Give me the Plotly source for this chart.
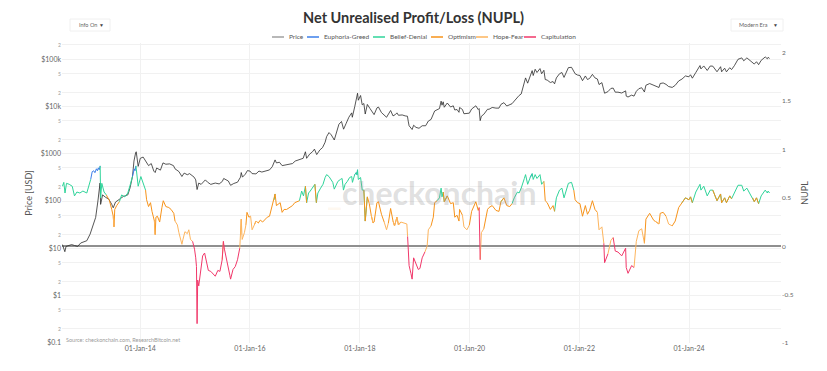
import plotly.graph_objects as go

# ---------------- data ----------------
price_dates = [
"2012-08-01","2012-08-17","2012-08-25","2012-09-15","2012-10-01","2012-10-20","2012-11-10","2012-12-01","2012-12-20",
"2013-01-10","2013-02-01","2013-02-20","2013-03-10","2013-03-25","2013-04-08","2013-04-12","2013-04-25","2013-05-15",
"2013-06-05","2013-06-25","2013-07-05","2013-07-20","2013-08-15","2013-09-10","2013-10-10","2013-10-25","2013-11-10",
"2013-11-20","2013-12-01","2013-12-05","2013-12-18","2014-01-01","2014-01-20","2014-02-10","2014-02-25","2014-03-15",
"2014-04-01","2014-04-10","2014-04-20","2014-05-15","2014-06-01","2014-06-20","2014-07-15","2014-08-10","2014-08-20",
"2014-09-15","2014-10-05","2014-10-20","2014-11-10","2014-11-25","2014-12-10","2014-12-25","2015-01-05","2015-01-14",
"2015-01-25","2015-02-10","2015-03-10","2015-03-25","2015-04-15","2015-05-15","2015-06-10","2015-07-01","2015-07-10",
"2015-07-25","2015-08-10","2015-08-25","2015-09-15","2015-10-10","2015-10-30","2015-11-04","2015-11-12","2015-12-01",
"2015-12-15","2016-01-01","2016-01-15","2016-02-10","2016-03-01","2016-03-20","2016-04-15","2016-05-10","2016-05-28",
"2016-06-16","2016-06-25","2016-07-15","2016-08-02","2016-08-20","2016-09-15","2016-10-10","2016-10-28","2016-11-15",
"2016-12-01","2016-12-20","2017-01-04","2017-01-12","2017-02-01","2017-02-20","2017-03-05","2017-03-20","2017-04-10",
"2017-04-28","2017-05-15","2017-05-25","2017-06-10","2017-06-25","2017-07-15","2017-08-01","2017-08-15","2017-09-01",
"2017-09-15","2017-10-01","2017-10-20","2017-11-08","2017-11-12","2017-11-28","2017-12-08","2017-12-17","2017-12-22",
"2018-01-06","2018-01-17","2018-01-28","2018-02-06","2018-02-20","2018-03-10","2018-03-30","2018-04-06","2018-04-25",
"2018-05-05","2018-05-25","2018-06-12","2018-06-28","2018-07-25","2018-08-10","2018-08-25","2018-09-05","2018-09-15",
"2018-10-10","2018-10-30","2018-11-14","2018-11-20","2018-11-25","2018-12-15","2018-12-25","2019-01-10","2019-01-30",
"2019-02-20","2019-03-15","2019-04-02","2019-04-20","2019-05-14","2019-05-30","2019-06-15","2019-06-26","2019-07-02",
"2019-07-10","2019-07-17","2019-08-06","2019-08-28","2019-09-15","2019-09-25","2019-10-10","2019-10-23","2019-10-27",
"2019-11-15","2019-11-25","2019-12-15","2019-12-31","2020-01-15","2020-02-12","2020-02-28","2020-03-05","2020-03-12",
"2020-03-20","2020-04-05","2020-04-30","2020-05-10","2020-05-31","2020-06-25","2020-07-15","2020-07-28","2020-08-17",
"2020-09-05","2020-09-25","2020-10-10","2020-10-25","2020-11-15","2020-11-26","2020-12-10","2020-12-20","2020-12-31",
"2021-01-08","2021-01-22","2021-02-08","2021-02-21","2021-02-28","2021-03-13","2021-03-25","2021-04-14","2021-04-25",
"2021-05-10","2021-05-19","2021-06-01","2021-06-22","2021-07-10","2021-07-20","2021-08-01","2021-08-22","2021-09-07",
"2021-09-21","2021-10-05","2021-10-20","2021-11-10","2021-11-25","2021-12-04","2021-12-20","2022-01-05","2022-01-22",
"2022-02-10","2022-02-24","2022-03-10","2022-03-29","2022-04-15","2022-05-01","2022-05-12","2022-05-31","2022-06-13",
"2022-06-18","2022-07-10","2022-07-30","2022-08-14","2022-08-28","2022-09-15","2022-10-10","2022-11-05","2022-11-09",
"2022-11-21","2022-12-15","2022-12-31","2023-01-15","2023-02-01","2023-02-20","2023-03-10","2023-03-20","2023-04-14",
"2023-05-10","2023-06-15","2023-06-23","2023-07-13","2023-08-01","2023-08-18","2023-09-11","2023-10-01","2023-10-24",
"2023-11-15","2023-12-08","2023-12-31","2024-01-11","2024-01-23","2024-02-15","2024-03-14","2024-03-20","2024-04-08",
"2024-05-01","2024-05-21","2024-06-07","2024-07-05","2024-07-29","2024-08-05","2024-08-25","2024-09-06","2024-09-28",
"2024-10-10","2024-10-29","2024-11-12","2024-11-22","2024-12-17","2024-12-30","2025-01-20","2025-02-03","2025-02-28",
"2025-03-10","2025-03-25","2025-04-08","2025-04-25","2025-05-22","2025-06-05","2025-06-10","2025-06-20"]
price_usd = [
12,8.5,11,11.5,12,11.5,11,13,13.5,
14.5,20,30,45,100,240,85,135,120,
110,85,72,95,110,125,135,190,330,
700,1050,1100,540,800,850,650,560,620,
430,400,500,450,640,600,610,560,480,
420,330,390,360,380,350,320,280,175,
240,225,280,250,225,240,230,260,300,
285,265,215,235,250,320,400,320,370,
440,430,380,375,430,410,425,455,530,
740,640,660,560,580,610,620,700,740,
750,800,1100,800,980,1100,1250,960,1200,
1350,1750,2300,2800,2500,1950,2800,4200,4800,
3300,4300,5900,7300,5900,9800,15000,19000,13500,
17000,10800,11500,6900,11000,9000,6900,6700,9300,
9700,7400,6500,5900,8200,6300,6700,7300,6500,
6600,6300,6200,4700,3900,3250,4000,3600,3450,
3900,3900,4900,5300,8000,8600,9000,12900,10600,
12500,9600,11800,9700,10300,8400,8600,7500,9500,
8600,7000,7100,7200,8800,10300,8600,9000,5000,
6200,6800,8700,8700,9500,9200,9200,11000,12000,
10200,10700,11400,13000,16000,17000,18300,23800,29000,
40000,31000,46000,57000,45000,61000,52000,63000,49000,
58000,37000,36000,32000,33500,30000,40000,49000,52000,
41000,51000,66000,67000,57000,49000,46000,45000,35000,
44000,37000,39000,47500,40000,38000,29000,31800,22000,
19000,20500,24000,24400,20000,20000,19200,21300,16500,
15800,17300,16500,20800,23700,24800,20200,28000,30400,
27700,25100,30500,31300,29200,26300,25200,27900,34500,
37800,44000,42300,46600,39500,52000,73000,62000,71600,
57500,71400,71000,54000,69000,53900,64200,53800,65800,
60000,72700,88000,99000,106000,92000,106000,98000,84000,
78500,88000,76300,94000,111000,101500,109000,103000]

nupl_dates = [
"2012-08-01","2012-08-10","2012-08-18","2012-08-28","2012-09-15","2012-10-05","2012-10-20","2012-11-05","2012-11-25","2012-12-15",
"2013-01-10","2013-01-25","2013-02-05","2013-02-15","2013-02-25","2013-03-05","2013-03-15","2013-03-22","2013-03-28","2013-04-03",
"2013-04-09","2013-04-12","2013-04-20","2013-05-05","2013-05-20","2013-06-10","2013-06-25","2013-07-05","2013-07-10","2013-07-15",
"2013-07-28","2013-08-15","2013-08-30","2013-09-20","2013-10-10","2013-10-25","2013-11-10","2013-11-17","2013-11-22","2013-11-27",
"2013-12-03","2013-12-10","2013-12-18",
"2014-01-05","2014-01-20","2014-02-05","2014-02-12","2014-02-25","2014-03-10","2014-03-20","2014-04-05","2014-04-10","2014-04-15",
"2014-04-25","2014-05-10","2014-05-25","2014-06-03","2014-06-20","2014-07-10","2014-07-25","2014-08-12","2014-08-20","2014-09-05",
"2014-09-15","2014-10-05","2014-10-12","2014-10-25","2014-11-10","2014-11-20","2014-12-01","2014-12-15","2014-12-28",
"2015-01-05","2015-01-10","2015-01-14","2015-01-18","2015-01-25","2015-02-05","2015-02-20","2015-03-05","2015-03-15","2015-03-30",
"2015-04-15","2015-04-28","2015-05-15","2015-06-01","2015-06-15","2015-06-30","2015-07-08","2015-07-15","2015-07-25","2015-08-10",
"2015-08-20","2015-08-25","2015-09-10","2015-09-25","2015-10-10","2015-10-25","2015-11-01","2015-11-04","2015-11-10","2015-11-25",
"2015-12-05","2015-12-12","2015-12-25",
"2016-01-05","2016-01-15","2016-01-30","2016-02-10","2016-02-25","2016-03-10","2016-03-25","2016-04-10","2016-04-25","2016-05-10",
"2016-05-25","2016-06-10","2016-06-16","2016-06-25","2016-07-10","2016-07-20","2016-08-02","2016-08-15","2016-09-01","2016-09-20",
"2016-10-10","2016-10-25","2016-11-10","2016-11-25","2016-12-01","2016-12-10","2016-12-22",
"2017-01-04","2017-01-12","2017-01-25","2017-02-05","2017-02-25","2017-03-08","2017-03-18","2017-03-28","2017-04-15","2017-05-01",
"2017-05-15","2017-05-25","2017-06-10","2017-06-25","2017-07-05","2017-07-15","2017-07-25","2017-08-08","2017-08-25","2017-09-05",
"2017-09-14","2017-09-25","2017-10-10","2017-10-25","2017-11-08","2017-11-13","2017-11-28","2017-12-08","2017-12-13","2017-12-17",
"2017-12-22",
"2018-01-06","2018-01-17","2018-01-28","2018-02-06","2018-02-20","2018-03-05","2018-03-18","2018-03-30","2018-04-06","2018-04-25",
"2018-05-05","2018-05-25","2018-06-12","2018-06-28","2018-07-10","2018-07-25","2018-08-10","2018-08-20","2018-09-05","2018-09-15",
"2018-10-01","2018-10-20","2018-11-10","2018-11-15","2018-11-20","2018-11-25","2018-12-07","2018-12-15","2018-12-25",
"2019-01-10","2019-01-25","2019-02-05","2019-02-20","2019-03-10","2019-03-25","2019-04-02","2019-04-20","2019-05-05","2019-05-14",
"2019-05-30","2019-06-15","2019-06-26","2019-07-02","2019-07-10","2019-07-17","2019-08-06","2019-08-28","2019-09-15","2019-09-25",
"2019-10-10","2019-10-23","2019-10-27","2019-11-15","2019-11-25","2019-12-15","2019-12-31",
"2020-01-15","2020-02-12","2020-02-28","2020-03-05","2020-03-12","2020-03-20","2020-04-05","2020-04-30","2020-05-10","2020-05-31",
"2020-06-25","2020-07-15","2020-07-28","2020-08-17","2020-09-05","2020-09-25","2020-10-10","2020-10-25","2020-11-15","2020-11-26",
"2020-12-10","2020-12-20","2020-12-31",
"2021-01-08","2021-01-22","2021-02-08","2021-02-21","2021-02-28","2021-03-13","2021-03-25","2021-04-14","2021-04-25","2021-05-10",
"2021-05-19","2021-06-01","2021-06-22","2021-07-10","2021-07-20","2021-08-01","2021-08-22","2021-09-07","2021-09-21","2021-10-05",
"2021-10-20","2021-11-10","2021-11-25","2021-12-04","2021-12-20",
"2022-01-05","2022-01-22","2022-02-10","2022-02-24","2022-03-10","2022-03-29","2022-04-15","2022-05-01","2022-05-12","2022-05-31",
"2022-06-13","2022-06-18","2022-07-10","2022-07-30","2022-08-14","2022-08-28","2022-09-15","2022-10-10","2022-11-05","2022-11-09",
"2022-11-21","2022-12-15","2022-12-31",
"2023-01-15","2023-02-01","2023-02-20","2023-03-10","2023-03-20","2023-04-14","2023-05-10","2023-06-15","2023-06-23","2023-07-13",
"2023-08-01","2023-08-18","2023-09-11","2023-10-01","2023-10-24","2023-11-15","2023-12-08","2023-12-31",
"2024-01-11","2024-01-23","2024-02-15","2024-03-14","2024-03-20","2024-04-08","2024-05-01","2024-05-21","2024-06-07","2024-07-05",
"2024-07-29","2024-08-05","2024-08-25","2024-09-06","2024-09-28","2024-10-10","2024-10-29","2024-11-12","2024-11-22","2024-12-17",
"2024-12-30",
"2025-01-20","2025-02-03","2025-02-28","2025-03-10","2025-03-25","2025-04-08","2025-04-25","2025-05-22","2025-06-05","2025-06-10",
"2025-06-20"]
nupl_values = [
0.62,0.66,0.55,0.65,0.64,0.62,0.52,0.56,0.55,0.57,
0.55,0.62,0.69,0.77,0.78,0.76,0.80,0.78,0.81,0.79,
0.83,0.50,0.65,0.56,0.53,0.47,0.38,0.31,0.20,0.38,
0.42,0.46,0.53,0.51,0.55,0.63,0.72,0.77,0.80,0.78,
0.83,0.72,0.62,
0.72,0.66,0.58,0.48,0.41,0.45,0.36,0.26,0.12,0.30,
0.31,0.25,0.40,0.47,0.41,0.40,0.38,0.34,0.26,0.22,
0.14,0.02,0.07,0.15,0.13,0.17,0.07,0.05,-0.03,
-0.12,-0.21,-0.80,-0.35,-0.41,-0.28,-0.10,-0.07,-0.14,-0.25,
-0.26,-0.28,-0.31,-0.25,-0.26,-0.14,0.05,-0.03,-0.10,-0.20,
-0.30,-0.34,-0.24,-0.21,-0.14,-0.02,0.12,0.28,0.07,0.14,
0.22,0.35,0.30,
0.31,0.17,0.22,0.26,0.24,0.27,0.25,0.28,0.30,0.31,
0.40,0.48,0.54,0.42,0.44,0.45,0.35,0.38,0.38,0.40,
0.42,0.45,0.46,0.47,0.50,0.57,0.52,
0.62,0.45,0.55,0.57,0.62,0.64,0.45,0.55,0.60,0.64,
0.71,0.74,0.72,0.69,0.66,0.59,0.62,0.67,0.69,0.70,
0.58,0.64,0.67,0.71,0.72,0.66,0.74,0.76,0.74,0.79,
0.69,
0.71,0.58,0.58,0.26,0.51,0.44,0.32,0.24,0.25,0.45,
0.46,0.33,0.25,0.17,0.24,0.39,0.26,0.21,0.30,0.22,
0.25,0.24,0.23,0.10,-0.02,-0.20,-0.28,-0.34,-0.12,
-0.18,-0.24,-0.23,-0.12,-0.06,0.00,0.17,0.21,0.30,0.45,
0.47,0.50,0.60,0.51,0.56,0.46,0.52,0.44,0.45,0.30,
0.32,0.26,0.38,0.32,0.20,0.17,0.22,
0.36,0.46,0.37,0.40,-0.14,0.14,0.18,0.38,0.40,0.42,
0.37,0.36,0.46,0.50,0.42,0.41,0.44,0.50,0.56,0.55,
0.60,0.66,0.70,
0.74,0.64,0.71,0.75,0.69,0.74,0.70,0.74,0.64,0.67,
0.47,0.45,0.38,0.42,0.36,0.50,0.58,0.60,0.50,0.57,
0.65,0.66,0.58,0.48,0.45,
0.44,0.31,0.42,0.33,0.37,0.47,0.38,0.35,0.17,0.20,
0.03,-0.17,-0.08,0.06,0.09,-0.05,-0.06,-0.10,-0.02,-0.22,
-0.28,-0.20,-0.22,
0.05,0.16,0.18,0.03,0.28,0.34,0.27,0.23,0.34,0.35,
0.31,0.23,0.21,0.26,0.40,0.45,0.50,0.48,
0.51,0.45,0.56,0.64,0.58,0.62,0.52,0.58,0.58,0.47,
0.54,0.45,0.50,0.45,0.52,0.49,0.55,0.61,0.63,0.63,
0.57,
0.60,0.56,0.50,0.46,0.50,0.44,0.52,0.58,0.55,0.57,
0.55]
assert len(price_dates) == len(price_usd)
assert len(nupl_dates) == len(nupl_values)

zone_names = ["Euphoria-Greed", "Belief-Denial", "Optimism", "Hope-Fear", "Capitulation"]
zone_lower = [0.75, 0.5, 0.25, 0.0, -10.0]
zone_upper = [10.0, 0.75, 0.5, 0.25, 0.0]
zone_colors = ["#3d7fea", "#2fd49a", "#f7931a", "#fdb55e", "#f1386a"]
price_color = "#2b2b2b"

price_tick_vals = [0.1, 0.2, 0.5, 1, 2, 5, 10, 20, 50, 100, 200, 500, 1000, 2000, 5000,
                   10000, 20000, 50000, 100000, 200000]
price_tick_text = ["$0.1", "2", "5", "$1", "2", "5", "$10", "2", "5", "$100", "2", "5", "$1000",
                   "2", "5", "$10k", "2", "5", "$100k", "2"]

# ---------------- figure ----------------
FONT = "Lato, 'Open Sans', sans-serif"
PL, PR, PT, PB = 62, 781, 43, 343          # plot box in pixels
def px(x):  # pixel -> paper x
    return (x - PL) / (PR - PL)
def py(y):  # pixel -> paper y
    return (PB - y) / (PB - PT)

fig = go.Figure()
fig.add_trace(go.Scatter(x=price_dates, y=price_usd, name="Price", mode="lines",
                         line=dict(color=price_color, width=0.8), yaxis="y", showlegend=False))

def zone_of(v):
    for k in range(len(zone_names)):
        if zone_lower[k] <= v < zone_upper[k]:
            return k
    return 0

zones = [zone_of(v) for v in nupl_values]
n = len(nupl_values)
for k, name in enumerate(zone_names):
    ys = []
    for i in range(n):
        keep = zones[i] == k or (i + 1 < n and zones[i + 1] == k)
        ys.append(nupl_values[i] if keep else None)
    fig.add_trace(go.Scatter(x=nupl_dates, y=ys, name=name, mode="lines",
                             line=dict(color=zone_colors[k], width=1.0),
                             connectgaps=False, yaxis="y2", showlegend=False))

tick_text_html = [t if t.startswith("$") else
                  "<span style='font-size:5px;color:#9a9a9a'>" + t + "</span>"
                  for t in price_tick_text]

legend_names = ["Price"] + zone_names
legend_colors = ["#a0a0a0"] + zone_colors

annotations = [
    dict(text="<b><span style='color:rgba(247,147,26,0.25)'>_</span>checkonchain</b>",
         x=px(432), y=py(192), xref="paper", yref="paper", showarrow=False,
         font=dict(size=32, color="rgba(150,150,150,0.30)", family=FONT),
         xanchor="center", yanchor="middle"),
    dict(text="Source: checkonchain.com, ResearchBitcoin.net", x=px(64), y=py(340),
         xref="paper", yref="paper", showarrow=False, xanchor="left", yanchor="middle",
         font=dict(size=5.5, color="#9a9a9a")),
    dict(text="Info On", x=px(77), y=py(25), xref="paper", yref="paper", showarrow=False,
         xanchor="left", yanchor="middle", font=dict(size=5.5, color="#666")),
    dict(text="\u25BC", x=px(101), y=py(25), xref="paper", yref="paper", showarrow=False,
         xanchor="center", yanchor="middle", font=dict(size=5, color="#444")),
    dict(text="Modern Era", x=px(737), y=py(25), xref="paper", yref="paper", showarrow=False,
         xanchor="left", yanchor="middle", font=dict(size=5.5, color="#666")),
    dict(text="\u25BC", x=px(775), y=py(25), xref="paper", yref="paper", showarrow=False,
         xanchor="center", yanchor="middle", font=dict(size=5, color="#444")),
]

# legend row: swatch line + label for each series
legend_text_x = [287, 322, 388, 446, 491, 539]
shapes = []
for nm, c, tx in zip(legend_names, legend_colors, legend_text_x):
    annotations.append(dict(text=nm, x=px(tx), y=py(37), xref="paper", yref="paper",
                            showarrow=False, xanchor="left", yanchor="middle",
                            font=dict(size=6.5, color="#555")))
    shapes.append(dict(type="line", xref="paper", yref="paper", x0=px(tx - 15), x1=px(tx - 3),
                       y0=py(37), y1=py(37), line=dict(color=c, width=1.5)))

shapes += [
    dict(type="rect", xref="paper", yref="paper", x0=px(70), x1=px(110), y0=py(31), y1=py(19),
         line=dict(color="#f0f0f0", width=1), fillcolor="rgba(255,255,255,0)", layer="below"),
    dict(type="rect", xref="paper", yref="paper", x0=px(731), x1=px(783), y0=py(31), y1=py(19),
         line=dict(color="#f0f0f0", width=1), fillcolor="rgba(255,255,255,0)", layer="below"),
]

fig.update_layout(
    width=827, height=371,
    margin=dict(l=PL, r=827 - PR, t=PT, b=371 - PB, autoexpand=False),
    paper_bgcolor="white", plot_bgcolor="white",
    font=dict(family=FONT, color="#555", size=8),
    title=dict(text="<b>Net Unrealised Profit/Loss (NUPL)</b>", x=0.5, xanchor="center",
               xref="container", y=1 - 18 / 371, yanchor="middle", yref="container",
               font=dict(size=14.5, color="#333", family=FONT)),
    showlegend=False,
    xaxis=dict(type="date", range=["2012-07-29", "2025-09-04"],
               tick0="2014-01-01", dtick="M24", tickformat="%d-%b-%y",
               showgrid=True, gridcolor="#f1f1f1", gridwidth=1,
               zeroline=False, showline=False, ticks="", automargin=False,
               tickfont=dict(size=7, color="#666")),
    yaxis=dict(type="log", range=[-1, 5.34], tickvals=price_tick_vals, ticktext=tick_text_html,
               showgrid=True, gridcolor="#f1f1f1", gridwidth=1, zeroline=False, automargin=False,
               ticks="", tickfont=dict(size=7, color="#666"),
               title=dict(text="Price [USD]", font=dict(size=9, color="#555"), standoff=6)),
    yaxis2=dict(overlaying="y", side="right", range=[-1, 2.1], automargin=False,
                tickvals=[-1, -0.5, 0, 0.5, 1, 1.5, 2],
                ticktext=["-1", "-0.5", "0", "0.5", "1", "1.5", "2"],
                showgrid=False, zeroline=True, zerolinecolor="#8f8f8f", zerolinewidth=1.8,
                ticks="", tickfont=dict(size=6.5, color="#666"),
                title=dict(text="NUPL", font=dict(size=9, color="#555"), standoff=8)),
    annotations=annotations,
    shapes=shapes,
)

fig.write_html("out.html", config={"displayModeBar": False},
               post_script="document.body.style.margin='0';document.body.style.overflow='hidden';")
